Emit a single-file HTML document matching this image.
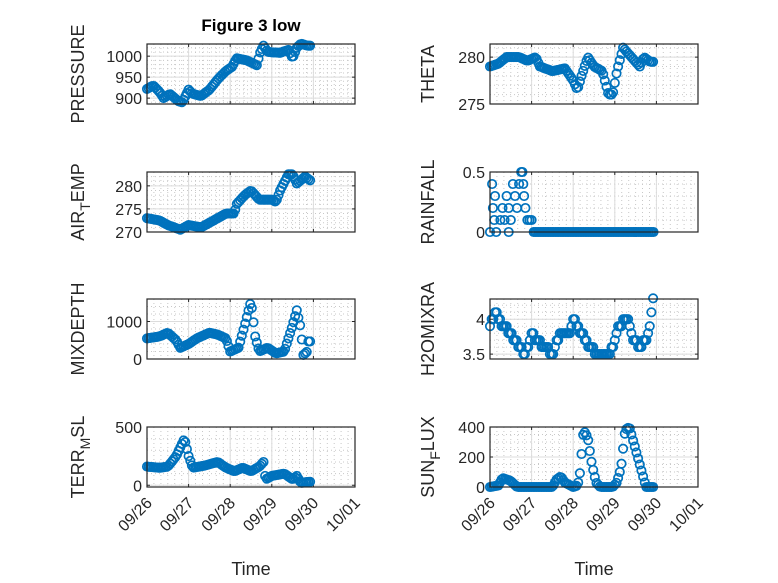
<!DOCTYPE html>
<html><head><meta charset="utf-8"><style>
html,body{margin:0;padding:0;background:#fff}
svg{display:block;font-family:"Liberation Sans","DejaVu Sans",sans-serif}
</style></head><body>
<svg id="s" width="778" height="583" xmlns="http://www.w3.org/2000/svg"></svg>
<script>
const S=document.getElementById('s');let h='';
const cols=[147,490],W=208,rows=[44,172,299,427],H=60;
const panels=[
{c:0,r:0,lab:'PRESSURE',yr:[886,1029],ticks:[900,950,1000],minor:10,
 k:[[0,922],[0.15,930],[0.3,915],[0.4,900],[0.55,910],[0.75,893],[0.85,890],[1.0,920],[1.1,910],[1.3,905],[1.5,920],[1.7,945],[1.9,965],[2.05,975],[2.15,995],[2.4,990],[2.65,978],[2.7,1005],[2.8,1025],[2.9,1010],[3.2,1008],[3.4,1015],[3.5,995],[3.6,1020],[3.7,1030],[3.85,1025]]},
{c:0,r:1,lab:'AIR<tspan dy="6" font-size="14">T</tspan><tspan dy="-6">EMP</tspan>',yr:[270,283],ticks:[270,275,280],minor:1,
 k:[[0,273],[0.3,272.5],[0.5,271.5],[0.8,270.5],[1.0,271.5],[1.3,271],[1.6,272.5],[1.9,274],[2.1,274],[2.15,276],[2.35,278],[2.5,279],[2.7,277],[3.0,277],[3.1,276.5],[3.2,279],[3.4,282.5],[3.5,282.5],[3.6,280.5],[3.8,282],[3.95,281]]},
{c:0,r:2,lab:'MIXDEPTH',yr:[0,1600],ticks:[0,1000],minor:200,
 k:[[0,550],[0.3,600],[0.5,700],[0.7,500],[0.8,300],[1.0,400],[1.2,550],[1.5,700],[1.7,650],[1.9,550],[2.0,200],[2.2,300],[2.35,900],[2.5,1550],[2.6,600],[2.7,200],[2.9,300],[3.1,150],[3.3,200],[3.5,900],[3.6,1300],[3.7,800],[3.75,100],[3.85,200],[3.9,650],[3.95,200]]},
{c:0,r:3,lab:'TERR<tspan dy="6" font-size="14">M</tspan><tspan dy="-6">SL</tspan>',yr:[-15,500],ticks:[0,500],minor:100,
 k:[[0,160],[0.3,150],[0.5,160],[0.7,250],[0.9,400],[1.0,250],[1.1,150],[1.4,170],[1.7,200],[1.9,150],[2.1,120],[2.3,150],[2.5,120],[2.7,160],[2.8,200],[2.85,50],[3.0,80],[3.3,100],[3.5,50],[3.6,80],[3.7,20],[3.9,30]]},
{c:1,r:0,lab:'THETA',yr:[275,281.4],ticks:[275,280],minor:1,
 k:[[0,279],[0.2,279.3],[0.4,280],[0.7,280],[0.9,279.6],[1.1,280],[1.2,279],[1.5,278.5],[1.8,278.8],[2.0,277.5],[2.1,276.5],[2.2,278],[2.35,280],[2.5,279],[2.7,278.5],[2.85,276],[2.95,276],[3.05,278.5],[3.2,281],[3.4,280],[3.6,279],[3.7,280],[3.85,279.5]]},
{c:1,r:1,lab:'RAINFALL',yr:[0,0.5],ticks:[0,0.5],minor:0.1,rain:true},
{c:1,r:2,lab:'H2OMIXRA',yr:[3.43,4.29],ticks:[3.5,4],minor:0.1,step:0.1,
 k:[[0,3.9],[0.15,4.1],[0.3,3.9],[0.5,3.8],[0.7,3.6],[0.85,3.5],[1.0,3.8],[1.1,3.7],[1.3,3.6],[1.5,3.5],[1.7,3.8],[1.9,3.8],[2.0,4.0],[2.2,3.8],[2.4,3.6],[2.6,3.5],[2.85,3.5],[3.0,3.7],[3.1,3.9],[3.3,4.0],[3.45,3.7],[3.6,3.6],[3.75,3.7],[3.85,3.9],[3.9,4.3]]},
{c:1,r:3,lab:'SUN<tspan dy="6" font-size="14">F</tspan><tspan dy="-6">LUX</tspan>',yr:[0,400],ticks:[0,200,400],minor:50,
 k:[[0,0],[0.2,10],[0.3,60],[0.5,40],[0.65,0],[1.5,0],[1.6,50],[1.7,70],[1.8,30],[2.0,0],[2.1,10],[2.15,60],[2.25,380],[2.35,330],[2.45,150],[2.55,30],[2.65,0],[2.95,0],[3.05,30],[3.15,130],[3.25,380],[3.35,400],[3.45,300],[3.6,150],[3.75,0],[3.95,0]]}
];
function interp(k,t){for(let i=0;i<k.length-1;i++){if(t<=k[i+1][0]){const f=(t-k[i][0])/(k[i+1][0]-k[i][0]);return k[i][1]+f*(k[i+1][1]-k[i][1]);}}return k[k.length-1][1];}
const labels=['09/26','09/27','09/28','09/29','09/30','10/01'];
panels.forEach(p=>{
 const x0=cols[p.c],y0=rows[p.r];
 const X=d=>x0+d*W/5, Y=v=>y0+H-(v-p.yr[0])/(p.yr[1]-p.yr[0])*H;
 h+=`<rect x="${x0}" y="${y0}" width="${W}" height="${H}" fill="#fff"/>`;
 for(let d=0;d<=5;d+=1/6){const x=X(d).toFixed(1);h+=`<line x1="${x}" y1="${y0}" x2="${x}" y2="${y0+H}" stroke="#c8c8c8" stroke-width="1" stroke-dasharray="1,3"/>`;}
 const st=p.minor;for(let v=Math.ceil(p.yr[0]/st)*st;v<=p.yr[1];v+=st){const y=Y(v).toFixed(1);h+=`<line x1="${x0}" y1="${y}" x2="${x0+W}" y2="${y}" stroke="#c8c8c8" stroke-width="1" stroke-dasharray="1,3"/>`;}
 for(let d=1;d<5;d++){h+=`<line x1="${X(d)}" y1="${y0}" x2="${X(d)}" y2="${y0+H}" stroke="#dcdcdc" stroke-width="1"/>`;}
 p.ticks.forEach(v=>{const y=Y(v);h+=`<line x1="${x0}" y1="${y}" x2="${x0+W}" y2="${y}" stroke="#dcdcdc"/><line x1="${x0}" y1="${y}" x2="${x0+3}" y2="${y}" stroke="#262626"/><line x1="${x0+W}" y1="${y}" x2="${x0+W-3}" y2="${y}" stroke="#262626"/><text x="${x0-5}" y="${y+6}" text-anchor="end" font-size="16" fill="#262626">${v}</text>`;});
 for(let d=0;d<=5;d++){h+=`<line x1="${X(d)}" y1="${y0+H}" x2="${X(d)}" y2="${y0+H-3}" stroke="#262626"/><line x1="${X(d)}" y1="${y0}" x2="${X(d)}" y2="${y0+3}" stroke="#262626"/>`;}
 let pts=[];
 if(p.rain){const r=[[0,0],[0.05,0.4],[0.07,0.2],[0.1,0.1],[0.12,0.3],[0.15,0],[0.25,0.1],[0.3,0.2],[0.35,0.1],[0.4,0.3],[0.45,0.2],[0.5,0.1],[0.55,0.4],[0.6,0.3],[0.65,0.2],[0.7,0.4],[0.75,0.5],[0.78,0.5],[0.8,0.4],[0.82,0.3],[0.85,0.2],[0.9,0.1],[0.95,0.1],[1.0,0.1],[0.45,0]];r.forEach(a=>pts.push(a));for(let t=1.05;t<=3.95;t+=0.04)pts.push([t,0]);}
 else{for(let t=0;t<=3.95;t+=0.04){let v=interp(p.k,t);if(p.step)v=Math.round(v*10)/10;pts.push([t,v]);}}
 pts.forEach(a=>{h+=`<circle cx="${X(a[0]).toFixed(1)}" cy="${Y(a[1]).toFixed(1)}" r="4.2" fill="none" stroke="#0072BD" stroke-width="1.7"/>`;});
 h+=`<rect x="${x0}" y="${y0}" width="${W}" height="${H}" fill="none" stroke="#262626" stroke-width="1.2"/>`;
 const lx=p.c?434:84;
 h+=`<text transform="translate(${lx},${y0+H/2}) rotate(-90)" text-anchor="middle" font-size="18" fill="#262626">${p.lab}</text>`;
 if(p.r==3){for(let d=0;d<=5;d++){h+=`<text transform="translate(${X(d)+6},${y0+H+17}) rotate(-45)" text-anchor="end" font-size="16" fill="#262626">${labels[d]}</text>`;}
 h+=`<text x="${x0+W/2}" y="575" text-anchor="middle" font-size="18" fill="#262626">Time</text>`;}
});
h+=`<text x="251" y="31" text-anchor="middle" font-size="17" font-weight="bold" fill="#000">Figure 3 low</text>`;
S.innerHTML=h;
</script>
</body></html>
